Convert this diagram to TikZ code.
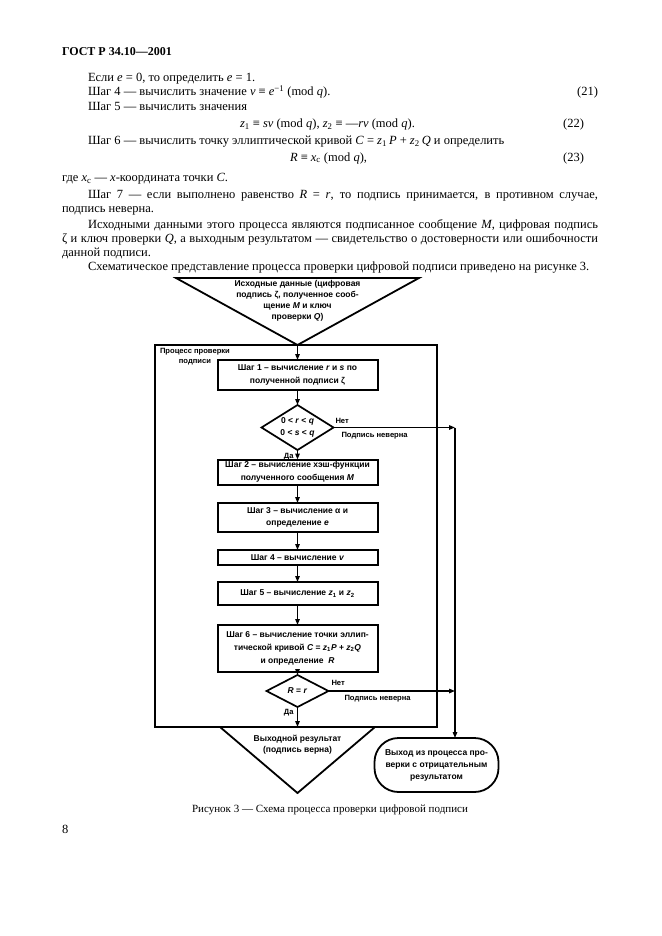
\documentclass[tikz,border=0pt]{standalone}
\usepackage{fontspec}
\setmainfont{Liberation Serif}
\newfontfamily\dsans{Liberation Sans}
\usetikzlibrary{arrows.meta,shapes.geometric}
\begin{document}
\begin{tikzpicture}[x=1pt,y=-1pt,
  every node/.style={inner sep=0pt,outer sep=0pt},
  body/.style={anchor=base west,font=\fontsize{12.5}{14}\selectfont},
  dfont/.style={font=\dsans\bfseries\fontsize{8.5}{12.5}\selectfont,align=center},
  stepbox/.style={dfont,draw,line width=2pt,minimum width=160pt},
  dia/.style={dfont,draw,diamond,line width=1.7pt},
  conn/.style={line width=1.3pt,-{Triangle[length=6pt,width=4.5pt]}},
  lbl/.style={font=\dsans\bfseries\fontsize{7.6}{9.5}\selectfont},
]
\useasboundingbox (0,0) rectangle (661,936);
\fill[white] (0,0) rectangle (661,936);

% ---------- page text ----------
\node[body,font=\bfseries\fontsize{12}{14}\selectfont] (hdr) at (62,56) {ГОСТ Р 34.10—2001};
\node[body] (l1) at (88,82) {Если \textit{e} = 0, то определить \textit{e} = 1.};
\node[body] (l2) at (88,96) {Шаг 4 — вычислить значение \textit{v} ≡ \textit{e}\textsuperscript{−1} (mod \textit{q}).};
\node[body,anchor=base east] (n21) at (598,96) {(21)};
\node[body] (l3) at (88,111) {Шаг 5 — вычислить значения};
\node[body] (l4) at (240,128) {\textit{z}\textsubscript{1} ≡ \textit{sv} (mod \textit{q}), \textit{z}\textsubscript{2} ≡ —\textit{rv} (mod \textit{q}).};
\node[body,anchor=base east] (n22) at (584,128) {(22)};
\node[body] (l5) at (88,145) {Шаг 6 — вычислить точку эллиптической кривой \textit{C} = \textit{z}\textsubscript{1}\,\textit{P} + \textit{z}\textsubscript{2}\,\textit{Q} и определить};
\node[body] (l6) at (290,161) {\textit{R} ≡ \textit{x}\textsubscript{c} (mod \textit{q}),};
\node[body,anchor=base east] (n23) at (584,161) {(23)};
\node[body] (l7) at (62,182) {где \textit{x}\textsubscript{c} — \textit{x}-координата точки \textit{C}.};
\node[body] (l8) at (88,198) {\hbox to 510pt{Шаг 7 — если выполнено равенство \textit{R} = \textit{r}, то подпись принимается, в противном случае,}};
\node[body] (l9) at (62,212) {подпись неверна.};
\node[body] (l10) at (88,228) {\hbox to 510pt{Исходными данными этого процесса являются подписанное сообщение \textit{M}, цифровая подпись}};
\node[body] (l11) at (62,242) {\hbox to 536pt{ζ и ключ проверки \textit{Q}, а выходным результатом — свидетельство о достоверности или ошибочности}};
\node[body] (l12) at (62,256) {данной подписи.};
\node[body] (l13) at (88,270) {Схематическое представление процесса проверки цифровой подписи приведено на рисунке 3.};

% ---------- diagram ----------
\coordinate (tA) at (176,278);
\coordinate (tB) at (419,278);
\coordinate (tapex) at (297.5,345);
\draw[line width=1.8pt,line join=miter] (tA) -- (tB) -- (tapex) -- cycle;
\node[dfont,font=\dsans\bfseries\fontsize{8.5}{11}\selectfont] (tin) at (297.5,301) {Исходные данные (цифровая\\подпись ζ, полученное сооб-\\щение \textit{M} и ключ\\проверки \textit{Q})};

\node[draw,line width=1.8pt,minimum width=282pt,minimum height=382pt] (frame) at (296,536) {};
\node[lbl,align=center,anchor=north west] (flabel) at (160,348.5) {Процесс проверки\\подписи};

\node[stepbox,minimum height=30pt] (s1) at (297.5,375) {Шаг 1 – вычисление \textit{r} и \textit{s} по\\полученной подписи ζ};
\node[dia,aspect=1.6,minimum width=72pt,minimum height=45pt] (d1) at (297.5,427.5) {0 < \textit{r} < \textit{q}\\0 < \textit{s} < \textit{q}};
\node[stepbox,minimum height=25pt] (s2) at (297.5,472) {Шаг 2 – вычисление хэш-функции\\полученного сообщения \textit{M}};
\node[stepbox,minimum height=29pt] (s3) at (297.5,517.5) {Шаг 3 – вычисление α и\\определение \textit{e}};
\node[stepbox,minimum height=15pt] (s4) at (297.5,557.5) {Шаг 4 – вычисление \textit{v}};
\node[stepbox,minimum height=23pt] (s5) at (297.5,593.5) {Шаг 5 – вычисление \textit{z}\textsubscript{1} и \textit{z}\textsubscript{2}};
\node[stepbox,minimum height=47pt,font=\dsans\bfseries\fontsize{8.5}{13}\selectfont] (s6) at (297.5,648.5) {Шаг 6 – вычисление точки эллип-\\тической кривой \textit{C} = \textit{z}\textsubscript{1}\textit{P} + \textit{z}\textsubscript{2}\textit{Q}\\и определение \ \textit{R}};
\node[dia,aspect=1.94,minimum width=62pt,minimum height=32pt] (d2) at (297.5,691) {\textit{R} = \textit{r}};

\node[lbl,anchor=base west] (no1) at ([xshift=2pt,yshift=4pt]d1.east) {Нет};
\node[lbl,anchor=north west] (bad1) at ([xshift=8pt,yshift=-5pt]d1.east) {Подпись неверна};
\node[lbl,anchor=base east] (yes1) at ([xshift=-4pt,yshift=-8pt]d1.south) {Да};
\node[lbl,anchor=base west] (no2) at ([xshift=3pt,yshift=6pt]d2.east) {Нет};
\node[lbl,anchor=north west] (bad2) at ([xshift=16pt,yshift=-4pt]d2.east) {Подпись неверна};
\node[lbl,anchor=base east] (yes2) at ([xshift=-4pt,yshift=-7pt]d2.south) {Да};

\coordinate (bA) at (220,727);
\coordinate (bB) at (375,727);
\coordinate (bapex) at (297.5,793);
\draw[line width=1.8pt,line join=miter] (bA) -- (bapex) -- (bB) -- cycle;
\node[dfont,font=\dsans\bfseries\fontsize{8.5}{11}\selectfont] (bin) at (297.5,745) {Выходной результат\\(подпись верна)};

\node[dfont,draw,line width=1.8pt,rounded corners=24pt,minimum width=124pt,minimum height=54pt,font=\dsans\bfseries\fontsize{8.5}{12}\selectfont] (term) at (436.5,765) {Выход из процесса про-\\верки с отрицательным\\результатом};

\coordinate (c1) at (455,427.5);
\draw[conn] (tapex) -- (s1.north);
\draw[conn] (s1) -- (d1);
\draw[conn] (d1) -- (s2);
\draw[conn] (s2) -- (s3);
\draw[conn] (s3) -- (s4);
\draw[conn] (s4) -- (s5);
\draw[conn] (s5) -- (s6);
\draw[conn] (s6) -- (d2);
\draw[conn] (d2.south) -- (d2.south |- frame.south);
\draw[conn] (d1.east) -- (c1);
\draw[conn] (c1) -- (c1 |- term.north);
\draw[conn] (d2.east) -- (c1 |- d2.east);

% ---------- caption ----------
\node[anchor=base,font=\fontsize{11}{13}\selectfont] (cap) at (330,812) {Рисунок 3 — Схема процесса проверки цифровой подписи};
\node[body] (pg) at (62,833) {8};
\end{tikzpicture}
\end{document}
